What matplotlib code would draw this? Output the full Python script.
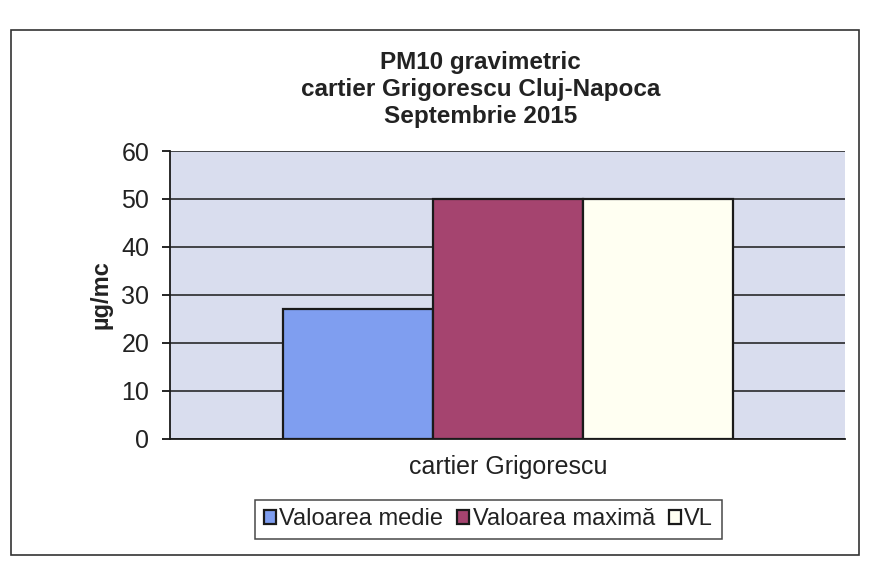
import numpy as np
import matplotlib
matplotlib.use('Agg')
import matplotlib.pyplot as plt
from matplotlib.patches import Rectangle

# data
category = ['cartier Grigorescu']
series = ['Valoarea medie', 'Valoarea maximă', 'VL']
values = [27, 50, 50]
colors = ['#7f9ef0', '#a5446f', '#fffff2']
yticks = [0, 10, 20, 30, 40, 50, 60]

plt.rcParams['font.family'] = ['Liberation Sans', 'DejaVu Sans']

fig = plt.figure(figsize=(8.77, 5.72), dpi=100)
fig.patch.set_facecolor('white')

# outer chart frame
fig.patches.append(Rectangle((0.012, 0.03), 0.968, 0.918, transform=fig.transFigure,
                             fill=False, edgecolor='#333333', linewidth=1.2))

ax = fig.add_axes([0.194, 0.233, 0.770, 0.503])
ax.set_facecolor('#d9ddee')

w = 1.0 / 4.5
x0 = np.arange(len(category))
for i, (name, v, c) in enumerate(zip(series, values, colors)):
    ax.bar(x0 + (i - 1) * w, [v], width=w, color=c, edgecolor='#1a1a1a',
           linewidth=1.6, label=name, zorder=3)

ax.set_xlim(-0.5, 0.5)
ax.set_ylim(0, 60)
ax.set_yticks(yticks)
ax.set_yticklabels([str(t) for t in yticks], fontsize=18, color='#222222')
ax.set_xticks(x0)
ax.set_xticklabels(category, fontsize=18, color='#222222')
ax.tick_params(axis='x', length=0, pad=12)
ax.tick_params(axis='y', length=6, width=1.2, direction='out', pad=9)
ax.yaxis.grid(True, color='#1a1a1a', linewidth=1.1, zorder=1)
ax.set_axisbelow(True)
for s in ['top', 'right']:
    ax.spines[s].set_visible(False)
for s in ['left', 'bottom']:
    ax.spines[s].set_linewidth(1.3)
    ax.spines[s].set_color('#1a1a1a')

ax.set_ylabel('µg/mc', fontsize=17, fontweight='bold', labelpad=6, color='#222222')

fig.text(0.548, 0.843, 'PM10 gravimetric\ncartier Grigorescu Cluj-Napoca\nSeptembrie 2015',
         ha='center', va='center', fontsize=17.5, fontweight='bold', color='#222222',
         linespacing=1.22)

leg = fig.legend(loc='center', bbox_to_anchor=(0.557, 0.092), ncol=3, fontsize=17,
                 frameon=True, fancybox=False, handlelength=0.5, handleheight=0.5,
                 handletextpad=0.15, columnspacing=0.6, borderpad=0.35)
leg.get_frame().set_edgecolor('#1a1a1a')
leg.get_frame().set_linewidth(1.1)
for t in leg.get_texts():
    t.set_color('#222222')

fig.savefig('out.png', dpi=100)
